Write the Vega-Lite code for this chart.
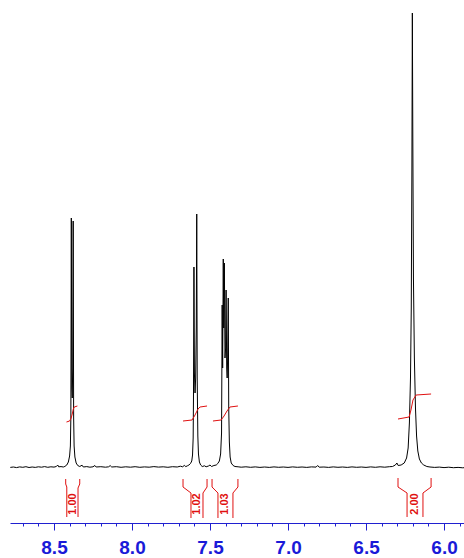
{
  "$schema": "https://vega.github.io/schema/vega-lite/v6.json",
  "width": 454,
  "height": 518,
  "autosize": {"type": "none"},
  "padding": {"left": 10, "top": 5, "right": 0, "bottom": 35},
  "background": "white",
  "config": {"view": {"stroke": null}},
  "datasets": {
    "spec": [
      {"ppm": 8.780, "v": 0.6}, {"ppm": 8.760, "v": 1.0}, {"ppm": 8.740, "v": 0.4}, {"ppm": 8.720, "v": 1.1},
      {"ppm": 8.700, "v": 0.7}, {"ppm": 8.680, "v": 1.3}, {"ppm": 8.660, "v": 0.5}, {"ppm": 8.640, "v": 1.0},
      {"ppm": 8.620, "v": 0.6}, {"ppm": 8.600, "v": 1.2}, {"ppm": 8.580, "v": 0.8}, {"ppm": 8.560, "v": 1.4},
      {"ppm": 8.540, "v": 0.7}, {"ppm": 8.520, "v": 1.2}, {"ppm": 8.500, "v": 0.9}, {"ppm": 8.485, "v": 1.5},
      {"ppm": 8.476, "v": 3.0}, {"ppm": 8.470, "v": 1.2}, {"ppm": 8.455, "v": 1.4}, {"ppm": 8.440, "v": 1.0},
      {"ppm": 8.430, "v": 1.6}, {"ppm": 8.418, "v": 3}, {"ppm": 8.408, "v": 6}, {"ppm": 8.400, "v": 12},
      {"ppm": 8.395, "v": 22}, {"ppm": 8.392, "v": 50}, {"ppm": 8.389, "v": 250}, {"ppm": 8.386, "v": 80},
      {"ppm": 8.383, "v": 70}, {"ppm": 8.380, "v": 100}, {"ppm": 8.377, "v": 247}, {"ppm": 8.374, "v": 50},
      {"ppm": 8.371, "v": 22}, {"ppm": 8.366, "v": 11}, {"ppm": 8.358, "v": 5}, {"ppm": 8.348, "v": 2.5},
      {"ppm": 8.335, "v": 1.5}, {"ppm": 8.320, "v": 2.8}, {"ppm": 8.312, "v": 1.0}, {"ppm": 8.290, "v": 1.4},
      {"ppm": 8.270, "v": 0.8}, {"ppm": 8.250, "v": 1.2}, {"ppm": 8.238, "v": 2.5}, {"ppm": 8.230, "v": 1.0},
      {"ppm": 8.200, "v": 1.3}, {"ppm": 8.170, "v": 0.8}, {"ppm": 8.150, "v": 1.2}, {"ppm": 8.140, "v": 2.4},
      {"ppm": 8.130, "v": 1.0}, {"ppm": 8.100, "v": 1.3}, {"ppm": 8.070, "v": 0.7}, {"ppm": 8.040, "v": 1.2},
      {"ppm": 8.010, "v": 0.8}, {"ppm": 7.980, "v": 1.3}, {"ppm": 7.950, "v": 0.7}, {"ppm": 7.920, "v": 1.1},
      {"ppm": 7.890, "v": 0.8}, {"ppm": 7.860, "v": 1.4}, {"ppm": 7.830, "v": 0.9}, {"ppm": 7.800, "v": 1.2},
      {"ppm": 7.770, "v": 0.7}, {"ppm": 7.740, "v": 1.3}, {"ppm": 7.710, "v": 1.0}, {"ppm": 7.690, "v": 1.8},
      {"ppm": 7.675, "v": 1.2}, {"ppm": 7.665, "v": 2.6}, {"ppm": 7.655, "v": 1.4}, {"ppm": 7.645, "v": 2.2},
      {"ppm": 7.635, "v": 3}, {"ppm": 7.625, "v": 4.5}, {"ppm": 7.617, "v": 7}, {"ppm": 7.612, "v": 13},
      {"ppm": 7.608, "v": 30}, {"ppm": 7.606, "v": 70}, {"ppm": 7.603, "v": 201}, {"ppm": 7.600, "v": 95},
      {"ppm": 7.596, "v": 75}, {"ppm": 7.592, "v": 90}, {"ppm": 7.588, "v": 140}, {"ppm": 7.585, "v": 254},
      {"ppm": 7.582, "v": 90}, {"ppm": 7.578, "v": 32}, {"ppm": 7.574, "v": 14}, {"ppm": 7.568, "v": 6},
      {"ppm": 7.560, "v": 3}, {"ppm": 7.550, "v": 1.5}, {"ppm": 7.535, "v": 2.2}, {"ppm": 7.525, "v": 1.2},
      {"ppm": 7.510, "v": 2.0}, {"ppm": 7.500, "v": 3.0}, {"ppm": 7.490, "v": 1.5}, {"ppm": 7.475, "v": 2.5},
      {"ppm": 7.460, "v": 3}, {"ppm": 7.450, "v": 4.5}, {"ppm": 7.440, "v": 7}, {"ppm": 7.432, "v": 14},
      {"ppm": 7.426, "v": 35}, {"ppm": 7.422, "v": 163}, {"ppm": 7.419, "v": 100}, {"ppm": 7.415, "v": 209},
      {"ppm": 7.412, "v": 140}, {"ppm": 7.408, "v": 205}, {"ppm": 7.404, "v": 110}, {"ppm": 7.400, "v": 120},
      {"ppm": 7.397, "v": 178}, {"ppm": 7.393, "v": 100}, {"ppm": 7.390, "v": 90}, {"ppm": 7.387, "v": 110},
      {"ppm": 7.383, "v": 170}, {"ppm": 7.380, "v": 60}, {"ppm": 7.376, "v": 26}, {"ppm": 7.371, "v": 11},
      {"ppm": 7.364, "v": 5}, {"ppm": 7.352, "v": 2.5}, {"ppm": 7.340, "v": 1.5}, {"ppm": 7.320, "v": 1.2},
      {"ppm": 7.300, "v": 0.8}, {"ppm": 7.270, "v": 1.2}, {"ppm": 7.240, "v": 0.7}, {"ppm": 7.210, "v": 1.1},
      {"ppm": 7.180, "v": 0.6}, {"ppm": 7.150, "v": 1.0}, {"ppm": 7.120, "v": 0.6}, {"ppm": 7.090, "v": 1.1},
      {"ppm": 7.060, "v": 0.7}, {"ppm": 7.030, "v": 1.0}, {"ppm": 7.000, "v": 0.6}, {"ppm": 6.970, "v": 1.1},
      {"ppm": 6.940, "v": 0.7}, {"ppm": 6.910, "v": 1.0}, {"ppm": 6.880, "v": 0.6}, {"ppm": 6.850, "v": 1.1},
      {"ppm": 6.820, "v": 0.9}, {"ppm": 6.810, "v": 2.5}, {"ppm": 6.800, "v": 0.8}, {"ppm": 6.770, "v": 1.0},
      {"ppm": 6.740, "v": 0.6}, {"ppm": 6.710, "v": 1.1}, {"ppm": 6.680, "v": 0.7}, {"ppm": 6.650, "v": 1.0},
      {"ppm": 6.620, "v": 0.6}, {"ppm": 6.590, "v": 1.1}, {"ppm": 6.560, "v": 0.7}, {"ppm": 6.530, "v": 1.0},
      {"ppm": 6.500, "v": 0.6}, {"ppm": 6.470, "v": 1.1}, {"ppm": 6.440, "v": 0.7}, {"ppm": 6.410, "v": 1.2},
      {"ppm": 6.380, "v": 0.8}, {"ppm": 6.350, "v": 1.3}, {"ppm": 6.330, "v": 1.5}, {"ppm": 6.312, "v": 3},
      {"ppm": 6.302, "v": 5}, {"ppm": 6.294, "v": 2.5}, {"ppm": 6.275, "v": 3}, {"ppm": 6.255, "v": 5},
      {"ppm": 6.240, "v": 10}, {"ppm": 6.230, "v": 20}, {"ppm": 6.222, "v": 45}, {"ppm": 6.215, "v": 90},
      {"ppm": 6.210, "v": 160}, {"ppm": 6.206, "v": 300}, {"ppm": 6.203, "v": 455}, {"ppm": 6.200, "v": 330},
      {"ppm": 6.196, "v": 190}, {"ppm": 6.190, "v": 110}, {"ppm": 6.183, "v": 60}, {"ppm": 6.176, "v": 32},
      {"ppm": 6.168, "v": 17}, {"ppm": 6.158, "v": 9}, {"ppm": 6.145, "v": 5}, {"ppm": 6.130, "v": 3},
      {"ppm": 6.110, "v": 1.5}, {"ppm": 6.090, "v": 1}, {"ppm": 6.060, "v": 0.6}, {"ppm": 6.030, "v": 0.9},
      {"ppm": 6.000, "v": 0.4}, {"ppm": 5.970, "v": 0.8}, {"ppm": 5.940, "v": 0.3}, {"ppm": 5.910, "v": 0.6},
      {"ppm": 5.880, "v": 0.2}, {"ppm": 5.872, "v": 0.3}
    ],
    "integ": [
      {"id": 1, "ppm": 8.420, "v": 46}, {"id": 1, "ppm": 8.400, "v": 47}, {"id": 1, "ppm": 8.390, "v": 50},
      {"id": 1, "ppm": 8.383, "v": 54}, {"id": 1, "ppm": 8.376, "v": 59}, {"id": 1, "ppm": 8.370, "v": 61},
      {"id": 1, "ppm": 8.350, "v": 62},
      {"id": 2, "ppm": 7.673, "v": 47}, {"id": 2, "ppm": 7.615, "v": 48}, {"id": 2, "ppm": 7.596, "v": 53},
      {"id": 2, "ppm": 7.577, "v": 59}, {"id": 2, "ppm": 7.564, "v": 61}, {"id": 2, "ppm": 7.519, "v": 62},
      {"id": 3, "ppm": 7.481, "v": 47}, {"id": 3, "ppm": 7.429, "v": 48}, {"id": 3, "ppm": 7.410, "v": 52},
      {"id": 3, "ppm": 7.391, "v": 57}, {"id": 3, "ppm": 7.372, "v": 61}, {"id": 3, "ppm": 7.321, "v": 62},
      {"id": 4, "ppm": 6.295, "v": 49}, {"id": 4, "ppm": 6.224, "v": 51}, {"id": 4, "ppm": 6.212, "v": 58},
      {"id": 4, "ppm": 6.199, "v": 68}, {"id": 4, "ppm": 6.179, "v": 73}, {"id": 4, "ppm": 6.083, "v": 74}
    ],
    "brk": [
      {"id": "1L", "seq": 1, "ppm": 8.425, "v": -11}, {"id": "1L", "seq": 2, "ppm": 8.425, "v": -16},
      {"id": "1L", "seq": 3, "ppm": 8.418, "v": -19}, {"id": "1L", "seq": 4, "ppm": 8.418, "v": -49},
      {"id": "1R", "seq": 1, "ppm": 8.335, "v": -11}, {"id": "1R", "seq": 2, "ppm": 8.335, "v": -16},
      {"id": "1R", "seq": 3, "ppm": 8.346, "v": -20}, {"id": "1R", "seq": 4, "ppm": 8.346, "v": -49},
      {"id": "2L", "seq": 1, "ppm": 7.673, "v": -11}, {"id": "2L", "seq": 2, "ppm": 7.673, "v": -19},
      {"id": "2L", "seq": 3, "ppm": 7.622, "v": -25}, {"id": "2L", "seq": 4, "ppm": 7.622, "v": -50},
      {"id": "2R", "seq": 1, "ppm": 7.519, "v": -11}, {"id": "2R", "seq": 2, "ppm": 7.519, "v": -19},
      {"id": "2R", "seq": 3, "ppm": 7.545, "v": -25}, {"id": "2R", "seq": 4, "ppm": 7.545, "v": -50},
      {"id": "3L", "seq": 1, "ppm": 7.487, "v": -11}, {"id": "3L", "seq": 2, "ppm": 7.487, "v": -19},
      {"id": "3L", "seq": 3, "ppm": 7.449, "v": -25}, {"id": "3L", "seq": 4, "ppm": 7.449, "v": -50},
      {"id": "3R", "seq": 1, "ppm": 7.321, "v": -11}, {"id": "3R", "seq": 2, "ppm": 7.321, "v": -19},
      {"id": "3R", "seq": 3, "ppm": 7.353, "v": -25}, {"id": "3R", "seq": 4, "ppm": 7.353, "v": -50},
      {"id": "4L", "seq": 1, "ppm": 6.295, "v": -10}, {"id": "4L", "seq": 2, "ppm": 6.295, "v": -19},
      {"id": "4L", "seq": 3, "ppm": 6.237, "v": -25}, {"id": "4L", "seq": 4, "ppm": 6.237, "v": -49},
      {"id": "4R", "seq": 1, "ppm": 6.083, "v": -10}, {"id": "4R", "seq": 2, "ppm": 6.083, "v": -19},
      {"id": "4R", "seq": 3, "ppm": 6.135, "v": -25}, {"id": "4R", "seq": 4, "ppm": 6.135, "v": -49}
    ],
    "labels": [
      {"ppm": 8.381, "v": -36, "t": "1.00"},
      {"ppm": 7.584, "v": -36, "t": "1.02"},
      {"ppm": 7.401, "v": -36, "t": "1.03"},
      {"ppm": 6.186, "v": -36, "t": "2.00"}
    ]
  },
  "encoding": {
    "x": {
      "field": "ppm", "type": "quantitative",
      "scale": {"domain": [5.872, 8.782], "reverse": true, "nice": false, "zero": false},
      "axis": {
        "title": null, "grid": false,
        "values": [8.7, 8.6, 8.5, 8.4, 8.3, 8.2, 8.1, 8.0, 7.9, 7.8, 7.7, 7.6, 7.5, 7.4, 7.3, 7.2, 7.1, 7.0, 6.9, 6.8, 6.7, 6.6, 6.5, 6.4, 6.3, 6.2, 6.1, 6.0, 5.9],
        "domainColor": "#2020d0", "domainWidth": 1,
        "tickColor": "#2020d0", "tickWidth": 1,
        "tickSize": {"condition": {"test": "abs(datum.value*2 - round(datum.value*2)) < 0.001", "value": 7}, "value": 3},
        "labelExpr": "abs(datum.value*2 - round(datum.value*2)) < 0.001 ? format(datum.value, '.1f') : ''",
        "labelColor": "#1a1ad8", "labelFont": "Liberation Sans", "labelFontWeight": "bold",
        "labelFontSize": 19, "labelPadding": 8, "labelFlush": false, "labelOverlap": false
      }
    },
    "y": {
      "field": "v", "type": "quantitative",
      "scale": {"domain": [-55, 463], "nice": false, "zero": false},
      "axis": null
    }
  },
  "layer": [
    {
      "data": {"name": "spec"},
      "mark": {"type": "line", "color": "black", "strokeWidth": 1}
    },
    {
      "data": {"name": "integ"},
      "mark": {"type": "line", "color": "#e01010", "strokeWidth": 1},
      "encoding": {"detail": {"field": "id"}}
    },
    {
      "data": {"name": "brk"},
      "mark": {"type": "line", "color": "#e01010", "strokeWidth": 1},
      "encoding": {"detail": {"field": "id"}, "order": {"field": "seq", "type": "quantitative"}}
    },
    {
      "data": {"name": "labels"},
      "mark": {"type": "text", "color": "#e01010", "angle": 270, "font": "Liberation Sans", "fontWeight": "bold", "fontSize": 11, "align": "center", "baseline": "middle"},
      "encoding": {"text": {"field": "t"}}
    }
  ]
}
